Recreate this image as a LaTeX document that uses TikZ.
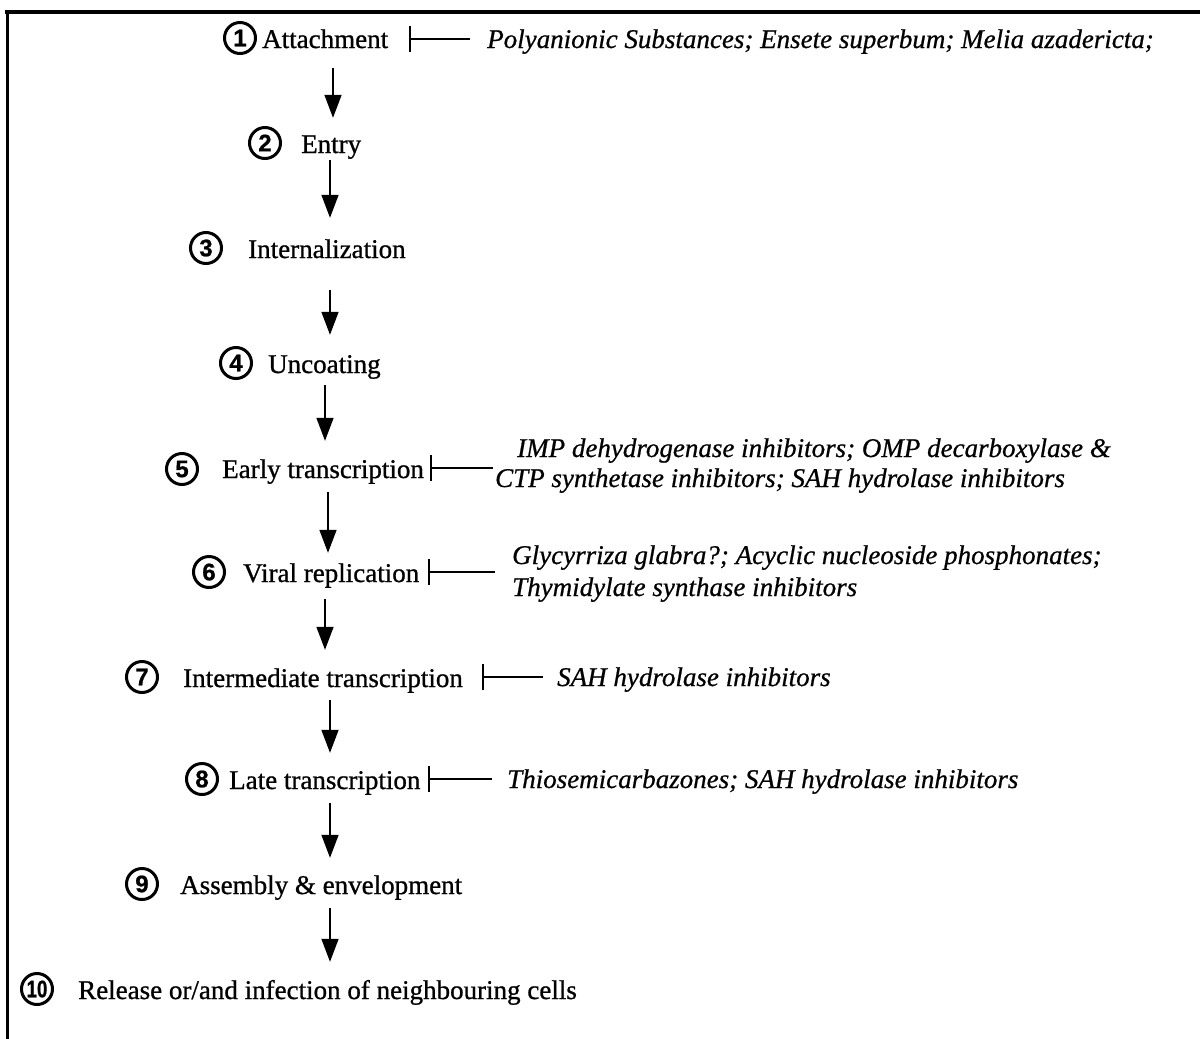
\documentclass[tikz,border=0pt]{standalone}
\usepackage{fontspec}
\setmainfont{Liberation Serif}[UprightFeatures={FakeBold=0.9}, ItalicFeatures={FakeBold=0.7}]
\newfontfamily\numfont{Liberation Sans}[FakeBold=0.8]
\usetikzlibrary{arrows.meta}
\begin{document}
\begin{tikzpicture}[x=1pt,y=-1pt,
  stepnode/.style={anchor=base west, inner sep=0pt, text height=22pt, text depth=5pt, font=\fontsize{27}{32}\selectfont},
  inhtext/.style={anchor=base west, inner sep=0pt, font=\fontsize{27}{32}\selectfont\itshape},
  num/.style={inner sep=0pt, font=\numfont\bfseries\fontsize{24}{24}\selectfont},
  ring/.style={line width=3pt},
  flow/.style={line width=1.6pt, -{Triangle[width=17pt,length=23pt]}},
  inhib/.style={line width=1.3pt, -{Bar[width=26pt, line width=2pt]}}
]
\useasboundingbox (0,0) rectangle (1200,1039);
\draw[line width=4pt] (5,12) -- (1200,12);
\draw[line width=3pt] (7,10) -- (7,1039);

% steps
\node[num] (c1) at (240,38) {1};
\node[stepnode] (s1) at (262,48) {Attachment};
\node[num] (c2) at (265,143) {2};
\node[stepnode] (s2) at (301,153) {Entry};
\node[num] (c3) at (206,248) {3};
\node[stepnode] (s3) at (248,258) {Internalization};
\node[num] (c4) at (236,363) {4};
\node[stepnode] (s4) at (268,373) {Uncoating};
\node[num] (c5) at (182,469) {5};
\node[stepnode] (s5) at (222,478) {Early transcription};
\node[num] (c6) at (209,572) {6};
\node[stepnode] (s6) at (243,582) {Viral replication};
\node[num] (c7) at (142,677) {7};
\node[stepnode] (s7) at (183,687) {Intermediate transcription};
\node[num] (c8) at (202,779) {8};
\node[stepnode] (s8) at (229,789) {Late transcription};
\node[num] (c9) at (142,884) {9};
\node[stepnode] (s9) at (180,894) {Assembly \& envelopment};
\node[num] (c10) at (37,989) {\scalebox{0.78}[1]{10}};
\node[stepnode] (s10) at (78,999) {Release or/and infection of neighbouring cells};
\foreach \c in {c1,c2,c3,c4,c5,c6,c7,c8,c9,c10}
  \draw[ring] (\c.center) circle[radius=15.5pt];

% inhibitors
\node[inhtext] (i1) at (487,48) {Polyanionic Substances; Ensete superbum; Melia azadericta;};
\node[inhtext] (i5a) at (517,457) {IMP dehydrogenase inhibitors; OMP decarboxylase \&};
\node[inhtext] (i5b) at (495,487) {CTP synthetase inhibitors; SAH hydrolase inhibitors};
\node[inhtext] (i6a) at (512,564) {Glycyrriza glabra?; Acyclic nucleoside phosphonates;};
\node[inhtext] (i6b) at (512,596) {Thymidylate synthase inhibitors};
\node[inhtext] (i7) at (557,686) {SAH hydrolase inhibitors};
\node[inhtext] (i8) at (507,788) {Thiosemicarbazones; SAH hydrolase inhibitors};

\coordinate (b1) at (409,39);
\coordinate (b5) at (430,468);
\coordinate (b6) at (428,572);
\coordinate (b7) at (482,677);
\coordinate (b8) at (428,779);
\coordinate (e5) at (493,468);
\coordinate (e6) at (495,572);
\draw[inhib, shorten <=17pt] (i1.west |- b1) -- (b1);
\draw[inhib] (e5) -- (b5);
\draw[inhib] (e6) -- (b6);
\draw[inhib, shorten <=14pt] (i7.west |- b7) -- (b7);
\draw[inhib, shorten <=15pt] (i8.west |- b8) -- (b8);

% flow arrows
\coordinate (x1) at (333,0);
\coordinate (x2) at (330,0);
\coordinate (x3) at (330,0);
\coordinate (x4) at (325,0);
\coordinate (x5) at (328,0);
\coordinate (x6) at (325,0);
\coordinate (x7) at (330,0);
\coordinate (x8) at (330,0);
\coordinate (x9) at (330,0);
\draw[flow, shorten <=15pt, shorten >=13pt] (s1.south -| x1) -- (s2.north -| x1);
\draw[flow, shorten <=2pt, shorten >=18pt] (s2.south -| x2) -- (s3.north -| x2);
\draw[flow, shorten <=27pt, shorten >=16pt] (s3.south -| x3) -- (s4.north -| x3);
\draw[flow, shorten <=7pt, shorten >=15pt] (s4.south -| x4) -- (s5.north -| x4);
\draw[flow, shorten <=9pt, shorten >=7pt] (s5.south -| x5) -- (s6.north -| x5);
\draw[flow, shorten <=12pt, shorten >=15pt] (s6.south -| x6) -- (s7.north -| x6);
\draw[flow, shorten <=8pt, shorten >=14pt] (s7.south -| x7) -- (s8.north -| x7);
\draw[flow, shorten <=9pt, shorten >=14pt] (s8.south -| x8) -- (s9.north -| x8);
\draw[flow, shorten <=9pt, shorten >=15pt] (s9.south -| x9) -- (s10.north -| x9);
\end{tikzpicture}
\end{document}
